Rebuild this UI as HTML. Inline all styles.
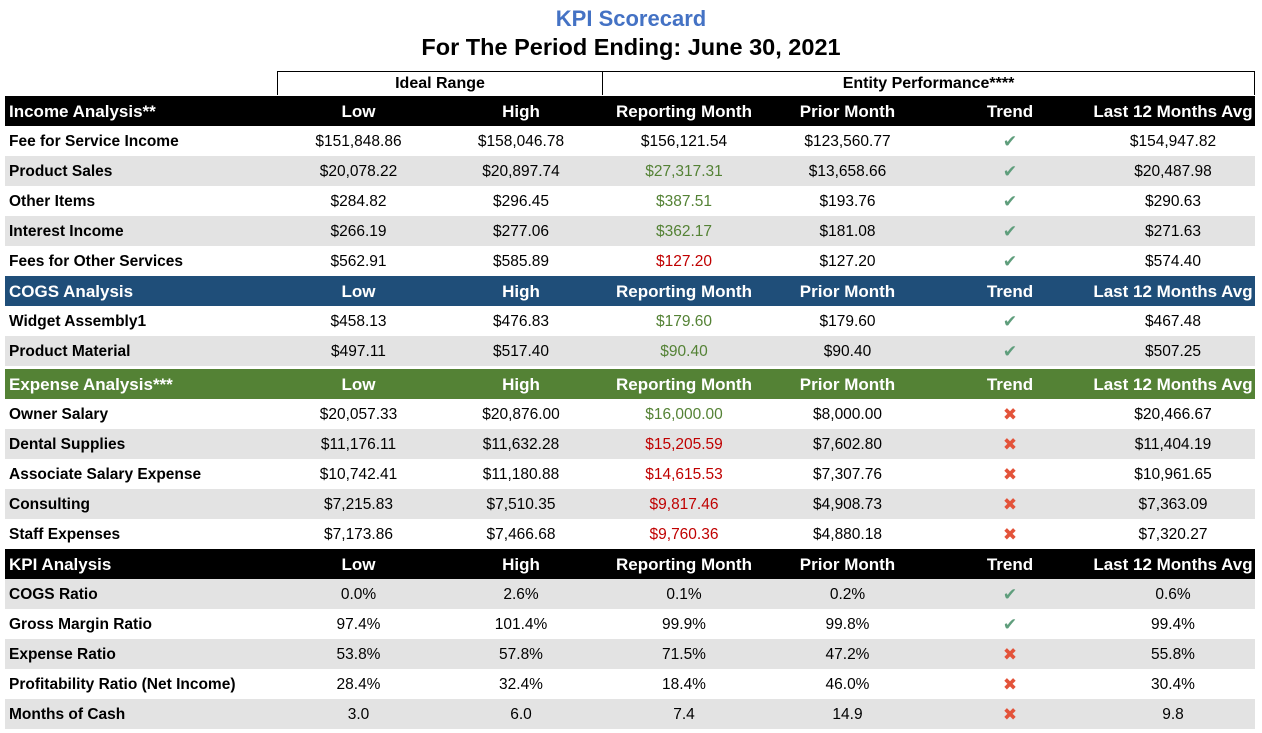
<!DOCTYPE html>
<html><head><meta charset="utf-8"><style>
body{margin:0;width:1262px;height:733px;background:#fff;position:relative;overflow:hidden;font-family:"Liberation Sans",Arial,sans-serif}
.t1{position:absolute;left:0;width:1262px;top:6px;text-align:center;color:#4472c4;font-weight:bold;font-size:22px}
.t2{position:absolute;left:0;width:1262px;top:34px;text-align:center;color:#000;font-weight:bold;font-size:23.5px}
.box{position:absolute;top:71px;height:24px;border:1px solid #000;border-bottom:none;box-sizing:border-box;text-align:center;font-weight:bold;font-size:16px;line-height:23px}
table{position:absolute;left:5px;border-collapse:collapse;table-layout:fixed;width:1250px}
td{height:30px;padding:2px 0 0 0;box-sizing:border-box;text-align:center;font-size:15.5px;white-space:nowrap}
td:first-child{text-align:left;padding-left:4px;font-weight:bold;font-size:15.5px}
tr.h td{color:#fff;font-weight:bold;font-size:17px}
tr.h td:first-child{font-size:17px}
tr.g td{background:#e3e3e3}
.gr{color:#548235}.rd{color:#c00000}
.ck{color:#5f9e7c;font-size:17px}.x{color:#e3533a;font-size:17px}
</style></head><body>
<div class="t1">KPI Scorecard</div>
<div class="t2">For The Period Ending: June 30, 2021</div>
<div class="box" style="left:277px;width:326px">Ideal Range</div>
<div class="box" style="left:602px;width:653px">Entity Performance****</div>
<table style="top:96px">
<colgroup><col style="width:272px"><col style="width:163px"><col style="width:162px"><col style="width:164px"><col style="width:163px"><col style="width:162px"><col style="width:164px"></colgroup>
<tr class="h" style="background:#000"><td>Income Analysis**</td><td>Low</td><td>High</td><td>Reporting Month</td><td>Prior Month</td><td>Trend</td><td>Last 12 Months Avg</td></tr>
<tr><td>Fee for Service Income</td><td>$151,848.86</td><td>$158,046.78</td><td>$156,121.54</td><td>$123,560.77</td><td class="ck">✔</td><td>$154,947.82</td></tr>
<tr class="g"><td>Product Sales</td><td>$20,078.22</td><td>$20,897.74</td><td class="gr">$27,317.31</td><td>$13,658.66</td><td class="ck">✔</td><td>$20,487.98</td></tr>
<tr><td>Other Items</td><td>$284.82</td><td>$296.45</td><td class="gr">$387.51</td><td>$193.76</td><td class="ck">✔</td><td>$290.63</td></tr>
<tr class="g"><td>Interest Income</td><td>$266.19</td><td>$277.06</td><td class="gr">$362.17</td><td>$181.08</td><td class="ck">✔</td><td>$271.63</td></tr>
<tr><td>Fees for Other Services</td><td>$562.91</td><td>$585.89</td><td class="rd">$127.20</td><td>$127.20</td><td class="ck">✔</td><td>$574.40</td></tr>
<tr class="h" style="background:#1f4e79"><td>COGS Analysis</td><td>Low</td><td>High</td><td>Reporting Month</td><td>Prior Month</td><td>Trend</td><td>Last 12 Months Avg</td></tr>
<tr><td>Widget Assembly1</td><td>$458.13</td><td>$476.83</td><td class="gr">$179.60</td><td>$179.60</td><td class="ck">✔</td><td>$467.48</td></tr>
<tr class="g"><td>Product Material</td><td>$497.11</td><td>$517.40</td><td class="gr">$90.40</td><td>$90.40</td><td class="ck">✔</td><td>$507.25</td></tr>
</table>
<table style="top:369px">
<colgroup><col style="width:272px"><col style="width:163px"><col style="width:162px"><col style="width:164px"><col style="width:163px"><col style="width:162px"><col style="width:164px"></colgroup>
<tr class="h" style="background:#548235"><td>Expense Analysis***</td><td>Low</td><td>High</td><td>Reporting Month</td><td>Prior Month</td><td>Trend</td><td>Last 12 Months Avg</td></tr>
<tr><td>Owner Salary</td><td>$20,057.33</td><td>$20,876.00</td><td class="gr">$16,000.00</td><td>$8,000.00</td><td class="x">✖</td><td>$20,466.67</td></tr>
<tr class="g"><td>Dental Supplies</td><td>$11,176.11</td><td>$11,632.28</td><td class="rd">$15,205.59</td><td>$7,602.80</td><td class="x">✖</td><td>$11,404.19</td></tr>
<tr><td>Associate Salary Expense</td><td>$10,742.41</td><td>$11,180.88</td><td class="rd">$14,615.53</td><td>$7,307.76</td><td class="x">✖</td><td>$10,961.65</td></tr>
<tr class="g"><td>Consulting</td><td>$7,215.83</td><td>$7,510.35</td><td class="rd">$9,817.46</td><td>$4,908.73</td><td class="x">✖</td><td>$7,363.09</td></tr>
<tr><td>Staff Expenses</td><td>$7,173.86</td><td>$7,466.68</td><td class="rd">$9,760.36</td><td>$4,880.18</td><td class="x">✖</td><td>$7,320.27</td></tr>
<tr class="h" style="background:#000"><td>KPI Analysis</td><td>Low</td><td>High</td><td>Reporting Month</td><td>Prior Month</td><td>Trend</td><td>Last 12 Months Avg</td></tr>
<tr class="g"><td>COGS Ratio</td><td>0.0%</td><td>2.6%</td><td>0.1%</td><td>0.2%</td><td class="ck">✔</td><td>0.6%</td></tr>
<tr><td>Gross Margin Ratio</td><td>97.4%</td><td>101.4%</td><td>99.9%</td><td>99.8%</td><td class="ck">✔</td><td>99.4%</td></tr>
<tr class="g"><td>Expense Ratio</td><td>53.8%</td><td>57.8%</td><td>71.5%</td><td>47.2%</td><td class="x">✖</td><td>55.8%</td></tr>
<tr><td>Profitability Ratio (Net Income)</td><td>28.4%</td><td>32.4%</td><td>18.4%</td><td>46.0%</td><td class="x">✖</td><td>30.4%</td></tr>
<tr class="g"><td>Months of Cash</td><td>3.0</td><td>6.0</td><td>7.4</td><td>14.9</td><td class="x">✖</td><td>9.8</td></tr>
</table>
</body></html>
